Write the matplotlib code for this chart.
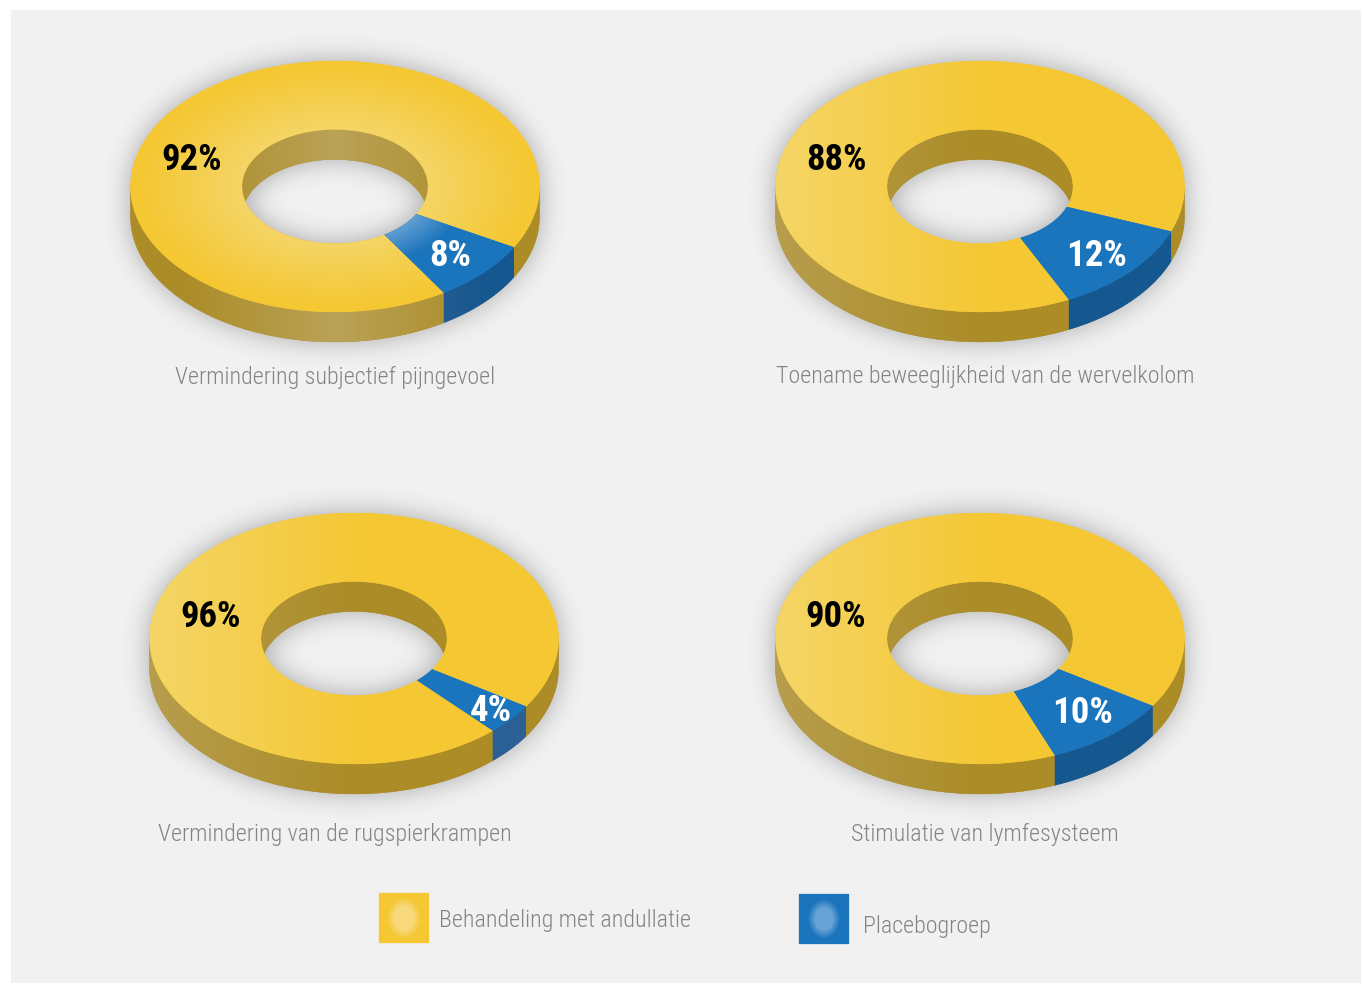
import numpy as np
import matplotlib
matplotlib.use("Agg")
import matplotlib.pyplot as plt
from matplotlib.patches import PathPatch, Rectangle
from matplotlib.path import Path

# chart values
titles = [
    "Vermindering subjectief pijngevoel",
    "Toename beweeglijkheid van de wervelkolom",
    "Vermindering van de rugspierkrampen",
    "Stimulatie van lymfesysteem",
]
treatment = [92, 88, 96, 90]
placebo = [8, 12, 4, 10]
legend_labels = ["Behandeling met andullatie", "Placebogroep"]

# layout, in image pixels
W, H = 1362, 984
centers = [(335, 186.5), (980, 186.5), (354, 638.5), (980, 638.5)]
blue_start = [29, 21, 32.8, 32.5]
title_pos = [(335, 377), (985, 377), (335, 834), (985, 834)]
yellow_pos = [(192, 160), (836, 160), (211, 617), (836, 617)]
blue_pos = [(450, 256), (1097, 256), (491, 711), (1083, 713)]
RX, RY = 204.5, 125.5
IRX, IRY = 93, 57
DEPTH = 30
BG = "#f1f1f1"

# colours: (base, light)
YELLOW = ("#f4c733", "#f5d566")
YELLOW_WALL = ("#ab8c27", "#baa257")
BLUE = ("#1b75bc", "#5f9dd1")
BLUE_WALL = ("#15578f", "#3f6894")
BLUE_WALL_4 = ("#2b6096", "#2f6499")
GREY_TEXT = "#828487"

NARROW = ["Roboto Condensed", "DejaVu Sans"]


def rgb(c):
    return np.array(matplotlib.colors.to_rgb(c))


def ell(cx, cy, rx, ry, a0, a1, z=0.0, n=160):
    t = np.radians(np.linspace(a0, a1, n))
    return np.column_stack([cx + rx * np.cos(t), cy - ry * np.sin(t) + z])


def gradient_fill(ax, poly, colors, light_fn):
    """Solid polygon with a gradient image clipped to it."""
    path = Path(np.vstack([poly, poly[:1]]), closed=True)
    base = PathPatch(path, fc=colors[0], ec=colors[0], lw=0.2, zorder=2)
    ax.add_patch(base)
    x0, y0 = np.floor(poly.min(axis=0)) - 1
    x1, y1 = np.ceil(poly.max(axis=0)) + 1
    xx, yy = np.meshgrid(np.arange(x0, x1) + 0.5, np.arange(y0, y1) + 0.5)
    t = np.clip(light_fn(xx, yy), 0, 1)[..., None]
    im = ax.imshow(rgb(colors[0]) * (1 - t) + rgb(colors[1]) * t,
                   extent=(x0, x1, y1, y0), interpolation="bilinear",
                   aspect="auto", zorder=2)
    clip = PathPatch(path, transform=ax.transData, fc="none", ec="none")
    im.set_clip_path(clip)


def blur(a, sigma):
    r = int(3 * sigma)
    k = np.exp(-0.5 * (np.arange(-r, r + 1) / sigma) ** 2)
    k /= k.sum()
    a = np.apply_along_axis(lambda v: np.convolve(v, k, mode="same"), 0, a)
    return np.apply_along_axis(lambda v: np.convolve(v, k, mode="same"), 1, a)


def draw_shadow(ax, cx, cy):
    x0, x1, y0, y1 = cx - 270, cx + 270, cy - 180, cy + 220
    xx, yy = np.meshgrid(np.arange(x0, x1) + 0.5, np.arange(y0, y1) + 0.5)

    def inside(z, rx, ry):
        return ((xx - cx) / rx) ** 2 + ((yy - cy - z) / ry) ** 2 <= 1

    outer = inside(0, RX, RY) | inside(DEPTH, RX, RY)
    outer |= (np.abs(xx - cx) <= RX) & (yy >= cy) & (yy <= cy + DEPTH)
    hole = inside(0, IRX, IRY) & inside(DEPTH, IRX, IRY)
    alpha = blur((outer & ~hole).astype(float), 13) * 0.36
    img = np.zeros(alpha.shape + (4,))
    img[..., :3] = 0.15
    img[..., 3] = alpha
    ax.imshow(img, extent=(x0, x1, y1, y0), interpolation="bilinear",
              aspect="auto", zorder=1)


def draw_donut(ax, i):
    cx, cy = centers[i]
    start = blue_start[i]
    end = start + placebo[i] * 3.6
    draw_shadow(ax, cx, cy)

    if i == 0:
        def face(x, y):
            r = np.hypot((x - cx) / RX, (y - cy) / RY)
            return (0.95 - r) / 0.5

        def wall(x, y):
            return 1 - np.abs(x - cx) / (RX * 0.75)
    else:
        def face(x, y):
            return -(x - cx) / RX * 0.95 + 0.05

        def wall(x, y):
            return -(x - cx) / RX * 0.8

    # far side of the hole
    th = np.degrees(np.arcsin(DEPTH / 2 / IRY))
    crescent = np.vstack([
        ell(cx, cy, IRX, IRY, -th, 180 + th),
        ell(cx, cy, IRX, IRY, 180 - th, th, z=DEPTH),
    ])
    gradient_fill(ax, crescent, YELLOW_WALL, wall)

    # outer walls
    blue_wall = BLUE_WALL_4 if i == 2 else BLUE_WALL
    for a0, a1, col in [(-180, -end, YELLOW_WALL), (-start, 0, YELLOW_WALL),
                        (-end, -start, blue_wall)]:
        band = np.vstack([ell(cx, cy, RX, RY, a0, a1),
                          ell(cx, cy, RX, RY, a1, a0, z=DEPTH)])
        gradient_fill(ax, band, col, wall)

    # top surface
    ring = np.vstack([ell(cx, cy, RX, RY, -end, -start - 360, n=400),
                      ell(cx, cy, IRX, IRY, -start - 360, -end, n=300)])
    gradient_fill(ax, ring, YELLOW, face)
    wedge = np.vstack([ell(cx, cy, RX, RY, -end, -start),
                       ell(cx, cy, IRX, IRY, -start, -end)])
    if i == 0:
        gradient_fill(ax, wedge, BLUE, lambda x, y: (0.66 - np.hypot((x - cx) / RX, (y - cy) / RY)) / 0.2)
    else:
        gradient_fill(ax, wedge, BLUE, lambda x, y: np.zeros_like(x))


def legend_box(ax, x, y, size, colors, blob):
    cx, cy = x + size / 2, y + size / 2
    poly = np.array([[x, y], [x + size, y], [x + size, y + size], [x, y + size]], dtype=float)

    def light(xx, yy):
        r = np.hypot((xx - cx) / blob[0], (yy - cy) / blob[1])
        return (1 - r) / 0.45

    gradient_fill(ax, poly, colors, light)


fig = plt.figure(figsize=(W / 100, H / 100), dpi=100, facecolor="white")
ax = fig.add_axes([0, 0, 1, 1])
ax.add_patch(Rectangle((11, 10), 1350, 973, fc=BG, ec="none", zorder=0))

for i in range(4):
    draw_donut(ax, i)
    ax.text(*yellow_pos[i], f"{treatment[i]}%", family=NARROW, weight="bold",
            fontsize=26.5, color="black", ha="center", va="center", zorder=5)
    ax.text(*blue_pos[i], f"{placebo[i]}%", family=NARROW, weight="bold",
            fontsize=26.5, color="white", ha="center", va="center", zorder=5)
    ax.text(*title_pos[i], titles[i], family=NARROW, weight=300, fontsize=17.3,
            color=GREY_TEXT, ha="center", va="center", zorder=5)

legend_box(ax, 379, 893, 50, ("#f4c733", "#f8da7c"), (17, 21))
legend_box(ax, 799, 894, 50, ("#1b75bc", "#66a2d5"), (16, 20))
ax.text(439, 921, legend_labels[0], family=NARROW, weight=300, fontsize=17.3, color=GREY_TEXT,
        ha="left", va="center", zorder=5)
ax.text(863, 927, legend_labels[1], family=NARROW, weight=300, fontsize=17.3, color=GREY_TEXT,
        ha="left", va="center", zorder=5)

ax.set_xlim(0, W)
ax.set_ylim(H, 0)
ax.axis("off")
fig.savefig("out.png", dpi=100)
plt.close(fig)
